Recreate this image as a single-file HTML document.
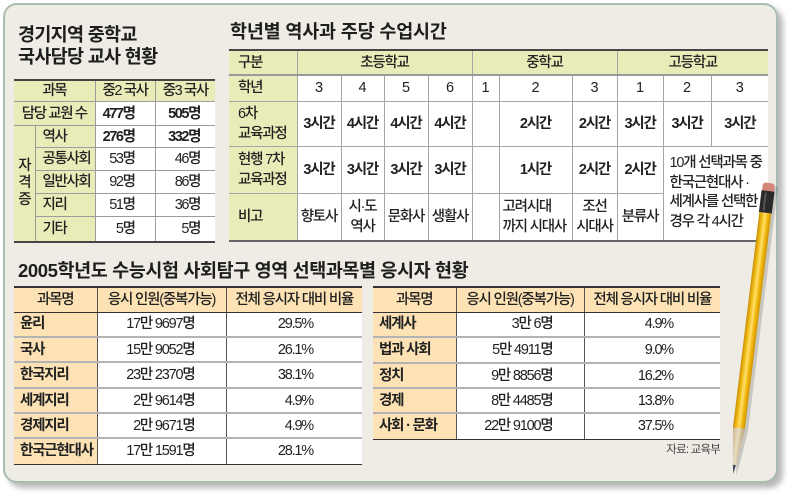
<!DOCTYPE html>
<html><head><meta charset="utf-8">
<style>
html,body{margin:0;padding:0;background:#fff;}
body{width:800px;height:496px;position:relative;overflow:hidden;font-family:"Liberation Sans","Noto Sans CJK KR",sans-serif;color:#222;}
.card{position:absolute;left:3px;top:3px;width:771px;height:476px;background:#efece5;border:2px solid #a9bcb0;border-radius:14px;box-shadow:5px 5px 6px rgba(0,0,0,0.28);}
.title{position:absolute;font-weight:bold;font-size:18.5px;line-height:22px;letter-spacing:-0.4px;color:#1e1e1e;white-space:nowrap;}
table{position:absolute;border-collapse:collapse;table-layout:fixed;font-size:14.5px;letter-spacing:-1.2px;color:#222;font-weight:500;}
td{padding:0;text-align:center;vertical-align:middle;white-space:nowrap;line-height:20px;}
.g{background:#e9ecb8;}
.p{background:#fce2b4;}
.w{background:#fff;}
.b{font-weight:bold;}
.lt{text-align:left;padding-left:7px;}
.num{text-align:right;}
.d{font-family:"Liberation Sans",sans-serif;letter-spacing:0;font-size:14.5px;font-weight:normal;}
#t1 td{border:1px solid #9c9c9c;}
#t1 tr.top td{border-top:2px solid #444;}
#t1 tr.bot td{border-bottom:2px solid #444;}
#t1 td.L{border-left:none;}
#t1 td.R{border-right:none;}
#t2 td{border:1px solid #a5a5a5;}
#t2 tr.top td{border-top:2px solid #444;border-bottom:2px solid #999;}
#t2 tr.bot td{border-bottom:2px solid #666;}
#t2 td.L{border-left:none;}
#t2 td.R{border-right:none;}
.bt td{border-left:1px solid #555;border-right:1px solid #555;border-bottom:2px solid #b3b3b3;}
.bt tr.top td{border-top:2px solid #333;border-bottom:1px solid #333;}
.bt tr.bot td{border-bottom:1.5px solid #333;}
.bt td.L{border-left:none;}
.bt td.R{border-right:none;}
.bt td.f{text-align:left;padding-left:6px;font-weight:bold;}
</style></head><body>
<div class="card"></div>

<div class="title" style="left:18px;top:24px;letter-spacing:-0.7px;">경기지역 중학교<br>국사담당 교사 현황</div>
<div class="title" style="left:230px;top:21px;letter-spacing:-0.2px;">학년별 역사과 주당 수업시간</div>
<div class="title" style="left:18px;top:260px;">2005학년도 수능시험 사회탐구 영역 선택과목별 응시자 현황</div>

<table id="t1" style="left:14px;top:79px;width:201px;font-size:14.5px;letter-spacing:-1.4px;">
<colgroup><col style="width:21px"><col style="width:60px"><col style="width:60px"><col style="width:60px"></colgroup>
<tr class="top" style="height:21px"><td colspan="2" class="g L">과목</td><td class="g">중2 국사</td><td class="g R">중3 국사</td></tr>
<tr style="height:24px"><td colspan="2" class="g L">담당 교원 수</td><td class="w b num" style="padding-right:20px">477명</td><td class="w b num R" style="padding-right:15px">505명</td></tr>
<tr style="height:22px"><td rowspan="5" class="g L" style="line-height:17px;border-bottom:2px solid #444;">자<br>격<br>증</td><td class="g lt">역사</td><td class="w b num" style="padding-right:20px">276명</td><td class="w b num R" style="padding-right:15px">332명</td></tr>
<tr style="height:23px"><td class="g lt">공통사회</td><td class="w num" style="padding-right:20px">53명</td><td class="w num R" style="padding-right:15px">46명</td></tr>
<tr style="height:23px"><td class="g lt">일반사회</td><td class="w num" style="padding-right:20px">92명</td><td class="w num R" style="padding-right:15px">86명</td></tr>
<tr style="height:23px"><td class="g lt">지리</td><td class="w num" style="padding-right:20px">51명</td><td class="w num R" style="padding-right:15px">36명</td></tr>
<tr class="bot" style="height:25px"><td class="g lt">기타</td><td class="w num" style="padding-right:20px">5명</td><td class="w num R" style="padding-right:15px">5명</td></tr>
</table>

<table id="t2" style="left:229px;top:49px;width:539px;">
<colgroup><col style="width:68px"><col style="width:44px"><col style="width:43px"><col style="width:44px"><col style="width:44px"><col style="width:27px"><col style="width:73px"><col style="width:45px"><col style="width:46px"><col style="width:48px"><col style="width:57px"></colgroup>
<tr class="top" style="height:25px"><td class="g L lt" style="padding-left:9px">구분</td><td colspan="4" class="g">초등학교</td><td colspan="3" class="g">중학교</td><td colspan="3" class="g R">고등학교</td></tr>
<tr style="height:26px"><td class="g L lt" style="padding-left:9px">학년</td><td class="w d">3</td><td class="w d">4</td><td class="w d">5</td><td class="w d">6</td><td class="w d">1</td><td class="w d">2</td><td class="w d">3</td><td class="w d">1</td><td class="w d">2</td><td class="w d R">3</td></tr>
<tr style="height:45px"><td class="g L lt" style="padding-left:9px">6차<br>교육과정</td><td class="w b">3시간</td><td class="w b">4시간</td><td class="w b">4시간</td><td class="w b">4시간</td><td class="w"></td><td class="w b">2시간</td><td class="w b">2시간</td><td class="w b">3시간</td><td class="w b">3시간</td><td class="w b R">3시간</td></tr>
<tr style="height:47px"><td class="g L lt" style="padding-left:9px">현행 7차<br>교육과정</td><td class="w b">3시간</td><td class="w b">3시간</td><td class="w b">3시간</td><td class="w b">3시간</td><td class="w"></td><td class="w b">1시간</td><td class="w b">2시간</td><td class="w b">2시간</td><td colspan="2" rowspan="2" class="w R" style="text-align:left;padding-left:6px;line-height:19.5px;border-bottom:2px solid #666;">10개 선택과목 중<br>한국근현대사 ·<br>세계사를 선택한<br>경우 각 4시간</td></tr>
<tr class="bot" style="height:48px"><td class="g L lt" style="padding-left:9px">비고</td><td class="w">향토사</td><td class="w">시·도<br>역사</td><td class="w">문화사</td><td class="w">생활사</td><td class="w"></td><td class="w" style="text-align:left;padding-left:3px">고려시대<br>까지 시대사</td><td class="w">조선<br>시대사</td><td class="w">분류사</td></tr>
</table>

<table class="bt" style="left:14px;top:286px;width:348px;">
<colgroup><col style="width:83px"><col style="width:129px"><col style="width:136px"></colgroup>
<tr class="top" style="height:25px"><td class="p L">과목명</td><td class="p">응시 인원(중복가능)</td><td class="p R">전체 응시자 대비 비율</td></tr>
<tr style="height:25px"><td class="p L f">윤리</td><td class="w num" style="padding-right:31px">17만 9697명</td><td class="w num R" style="padding-right:49px">29.5%</td></tr>
<tr style="height:25px"><td class="p L f">국사</td><td class="w num" style="padding-right:31px">15만 9052명</td><td class="w num R" style="padding-right:49px">26.1%</td></tr>
<tr style="height:26px"><td class="p L f">한국지리</td><td class="w num" style="padding-right:31px">23만 2370명</td><td class="w num R" style="padding-right:49px">38.1%</td></tr>
<tr style="height:25px"><td class="p L f">세계지리</td><td class="w num" style="padding-right:31px">2만 9614명</td><td class="w num R" style="padding-right:49px">4.9%</td></tr>
<tr style="height:25px"><td class="p L f">경제지리</td><td class="w num" style="padding-right:31px">2만 9671명</td><td class="w num R" style="padding-right:49px">4.9%</td></tr>
<tr class="bot" style="height:26px"><td class="p L f">한국근현대사</td><td class="w num" style="padding-right:31px">17만 1591명</td><td class="w num R" style="padding-right:49px">28.1%</td></tr>
</table>

<table class="bt" style="left:373px;top:286px;width:347px;">
<colgroup><col style="width:83px"><col style="width:128px"><col style="width:136px"></colgroup>
<tr class="top" style="height:25px"><td class="p L">과목명</td><td class="p">응시 인원(중복가능)</td><td class="p R">전체 응시자 대비 비율</td></tr>
<tr style="height:25px"><td class="p L f">세계사</td><td class="w num" style="padding-right:31px">3만 6명</td><td class="w num R" style="padding-right:47px">4.9%</td></tr>
<tr style="height:26px"><td class="p L f">법과 사회</td><td class="w num" style="padding-right:31px">5만 4911명</td><td class="w num R" style="padding-right:47px">9.0%</td></tr>
<tr style="height:25px"><td class="p L f">정치</td><td class="w num" style="padding-right:31px">9만 8856명</td><td class="w num R" style="padding-right:47px">16.2%</td></tr>
<tr style="height:25px"><td class="p L f">경제</td><td class="w num" style="padding-right:31px">8만 4485명</td><td class="w num R" style="padding-right:47px">13.8%</td></tr>
<tr class="bot" style="height:26px"><td class="p L f">사회 · 문화</td><td class="w num" style="padding-right:31px">22만 9100명</td><td class="w num R" style="padding-right:47px">37.5%</td></tr>
</table>

<div style="position:absolute;left:620px;top:441px;width:100px;text-align:right;font-size:11.5px;letter-spacing:-0.8px;color:#444;">자료: 교육부</div>

<svg style="position:absolute;left:0;top:0" width="800" height="496" viewBox="0 0 800 496">
<defs>
<linearGradient id="yg" x1="0" x2="1" y1="0" y2="0">
<stop offset="0" stop-color="#c98e00"/><stop offset="0.3" stop-color="#f4c11c"/><stop offset="0.5" stop-color="#ffe070"/><stop offset="0.7" stop-color="#f3bb12"/><stop offset="1" stop-color="#cf9400"/>
</linearGradient>
<linearGradient id="wg" x1="0" x2="1" y1="0" y2="0">
<stop offset="0" stop-color="#c8b48e"/><stop offset="0.5" stop-color="#eadcc0"/><stop offset="1" stop-color="#b9a27c"/>
</linearGradient>
</defs>
<g transform="translate(772,186) rotate(7)" opacity="0.25">
<polygon points="-6,0 6,0 6,247 0,292 -6,247" fill="#555"/>
</g>
<g transform="translate(769,183) rotate(7)">
<rect x="-6" y="0" width="12" height="10" rx="3" fill="#d5857a"/>
<rect x="-6.5" y="8" width="13" height="22" fill="#2a2a2a"/>
<rect x="-3" y="10" width="2" height="18" fill="#555"/>
<rect x="-6" y="30" width="12" height="217" fill="url(#yg)"/>
<polygon points="-6,247 6,247 1.6,284 -1.6,284" fill="url(#wg)"/>
<polygon points="-1.6,284 1.6,284 0,293" fill="#4a5060"/>
</g>
</svg>
</body></html>
